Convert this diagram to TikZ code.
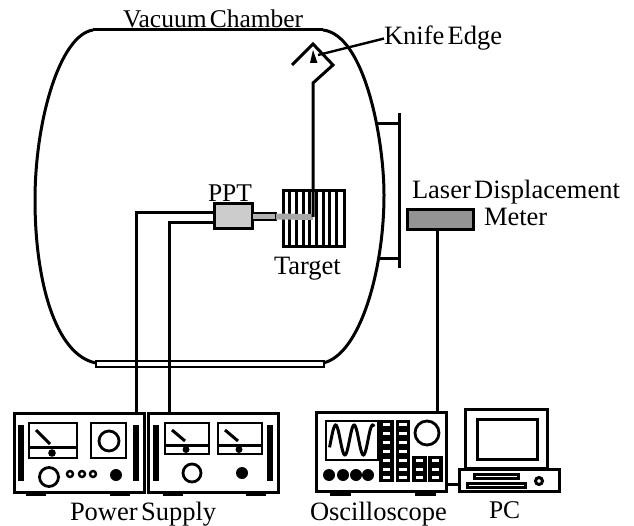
\documentclass[tikz,border=0pt]{standalone}
\usepackage{fontspec}
\setmainfont[WordSpace=0.5]{Liberation Serif}
\usetikzlibrary{positioning, calc}

\begin{document}
\begin{tikzpicture}[
		x=1pt, y=-1pt,
		% Estilos de las cajas y etiquetas
		unit/.style = {draw, rectangle, line width=3pt, inner sep=0pt, outer sep=0pt, fill=white, anchor=north west},
		caption/.style = {inner sep=0pt, outer sep=0pt, anchor=base west, font=\fontsize{26.5}{28}\selectfont},
		wire/.style = {line width=3pt},
		part/.style = {draw, line width=2.8pt, fill=white}
		]
		\useasboundingbox (0,0) rectangle (634,526);
		
		% --- CAMARA DE VACIO ---
		\draw [wire] (323,30) .. controls (365,35) and (384,140) .. (384,195) .. controls (384,270) and (360,355) .. (323,363);
		\draw [wire] (93,30) .. controls (60,35) and (35,120) .. (35,200) .. controls (35,280) and (55,355) .. (96,363);
		\draw [wire] (93,30) -- (323,30);
		
		% --- VENTANA ---
		\coordinate (wintop) at (399,113);
		\coordinate (winbot) at (399,268);
		\coordinate (porttop) at (377,124);
		\coordinate (portbot) at (378,259);
		\draw [wire] (wintop) -- (winbot);
		\draw [wire] (porttop) -- (porttop -| wintop);
		\draw [wire] (portbot) -- (portbot -| wintop);
		
		% --- FUENTES DE ALIMENTACION ---
		\node [unit, minimum width=130pt, minimum height=79pt] (psa) at (14,413) {};
		\node [unit, minimum width=130pt, minimum height=79pt] (psb) at (148,413) {};
		\foreach \xf in {26,110,163,246} {
			\fill (\xf,492) rectangle ++(20,3.5);
		}
		\foreach \xb in {18,133,153,267} {
			\fill (\xb,425) rectangle ++(6,56);
		}
		% medidor grande y cuadro de la primera fuente
		\draw [part] (29,423) rectangle (77,458);
		\draw [wire] (29,447) -- (77,447);
		\draw [wire] (36,430) -- (50,444);
		\fill (52,453) circle (3.8);
		\draw [part] (91,423) rectangle (126,458);
		\draw [part] (109,441) circle (10);
		\draw [part] (49,477) circle (9.5);
		\foreach \xk in {70,82,93} {
			\draw [line width=2.4pt] (\xk,474) circle (3);
		}
		\fill (116,475) circle (6);
		% medidores de la segunda fuente
		\foreach \xm in {165,218} {
			\draw [part] (\xm,423) rectangle ++(44,31);
			\draw [wire] (\xm,445) -- ++(44,0);
			\draw [wire] (\xm+7,430) -- ++(13,11);
			\fill (\xm+21,449.5) circle (3.5);
		}
		\draw [part] (192,473) circle (9);
		\fill (242,473) circle (6);
		
		% --- OSCILOSCOPIO ---
		\node [unit, minimum width=130pt, minimum height=79pt] (scope) at (316,412.5) {};
		\foreach \xf in {330,415} {
			\fill (\xf,492) rectangle ++(21,3.5);
		}
		\draw [part] (326,421) rectangle (378,460);
		\draw [wire, smooth, samples=60, domain=329.5:374] plot (\x, {440-15*sin((\x-331)*360/18.5)});
		\foreach \xc in {379,395.5} {
			\foreach \yc in {0,...,6} {
				\fill (\xc,420+8.9*\yc) rectangle ++(14.5,8.9);
				\fill [white] (\xc+3.5,423+8.9*\yc) rectangle ++(7.5,3);
			}
		}
		\foreach \xc in {412,428} {
			\foreach \yc in {4,5,6} {
				\fill (\xc,420+8.9*\yc) rectangle ++(14.5,8.9);
				\fill [white] (\xc+3.5,423+8.9*\yc) rectangle ++(7.5,3);
			}
		}
		\draw [part] (427,433) circle (12);
		\foreach \xd in {329,343,356,368} {
			\fill (\xd,475) circle (6);
		}
		
		% --- PC ---
		\node [unit, minimum width=82pt, minimum height=59pt] (monitor) at (465,409.5) {};
		\node [unit, minimum width=60pt, minimum height=40pt] (screen) at (477,419.5) {};
		\node [unit, minimum width=100pt, minimum height=22pt] (pc) at (459,469) {};
		\fill (473,473) rectangle (520,480);
		\fill (466,482) rectangle (527,489);
		\draw [white, line width=1pt] (476,476.5) -- (517,476.5);
		\draw [white, line width=1pt] (469,485.5) -- (524,485.5);
		\draw [line width=3pt] (539,481) circle (3.5);
		\coordinate (scopeport) at (scope.east |- 0,484);
		\draw [wire] (scopeport) -- (pc.west |- scopeport);
		
		% --- OBJETIVO Y PPT ---
		\node [unit, minimum width=61pt, minimum height=56pt] (target) at (283,191) {};
		\foreach \xb in {289.7,296.4,...,340} {
			\draw [line width=3pt] (\xb,191) -- (\xb,247);
		}
		\node [unit, minimum width=38pt, minimum height=25pt, fill=gray!40] (ppt) at (214,204) {};
		\node [unit, minimum width=24pt, minimum height=7pt, line width=2pt, fill=gray!60] (tube) at (252,213) {};
		\coordinate (beamend) at (313,217);
		\draw [line width=6pt, gray!70] (tube.east) -- (beamend);
		
		% --- PENDULO Y FILO ---
		\draw [wire, line join=miter] (beamend) -- (313,83) -- (333,65) -- (313,44) -- (292,65);
		\coordinate (edgeend) at (318,55);
		\fill (313,50) -- (317.5,63) -- (310,63) -- cycle;
		
		% --- CABLES ---
		\coordinate (tapa) at (136,413);
		\coordinate (tapb) at (169,413);
		\coordinate (tapc) at (437,412.5);
		\node [unit, minimum width=228pt, minimum height=6pt, line width=2.6pt, fill=none] (plate) at (96,361) {};
		\draw [wire] (ppt.west |- 0,213) -| (tapa);
		\draw [wire] (ppt.west |- 0,223) -| (tapb);
		\node [unit, minimum width=66pt, minimum height=20pt, fill=gray!85] (meter) at (407,210) {};
		\draw [wire] (meter.south -| tapc) -- (tapc);
		
		% --- ETIQUETAS ---
		\node [caption, font=\fontsize{25.5}{28}\selectfont] (vac) at (123,28) {Vacuum Chamber};
		\node [caption] (knife) at (384,45) {Knife Edge};
		\node [caption, font=\fontsize{25.5}{28}\selectfont] (ppttxt) at (208,202) {PPT};
		\node [caption] (targettxt) at (274,275) {Target};
		\node [caption] (lasertxt) at (412,199) {Laser Displacement};
		\node [caption] (metertxt) at (484,226) {Meter};
		\node [caption] (pstxt) at (70,520) {Power Supply};
		\node [caption] (scopetxt) at (310,520) {Oscilloscope};
		\node [caption, font=\fontsize{25.5}{28}\selectfont] (pctxt) at (489,518) {PC};
		\draw [line width=2.4pt] (knife.west) -- (edgeend);
		
	\end{tikzpicture}
\end{document}
